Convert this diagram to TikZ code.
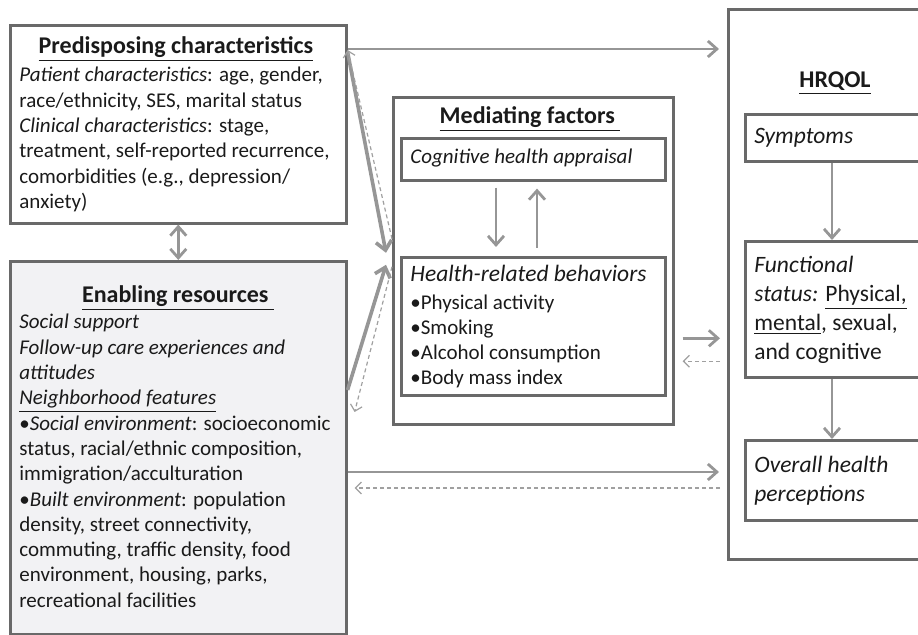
\documentclass[tikz,border=0pt]{standalone}
\usepackage{fontspec}
\setmainfont{Carlito}
\usetikzlibrary{arrows.meta}
\definecolor{linegray}{RGB}{105,105,105}
\definecolor{arrgray}{RGB}{150,150,150}
\definecolor{dashgray}{RGB}{160,160,160}
\definecolor{enabfill}{RGB}{242,242,244}
\definecolor{textgray}{RGB}{26,26,26}
\tikzset{
  box/.style={draw=linegray, line width=1.3pt, anchor=north west, inner sep=0pt},
  ttl/.style={anchor=base, inner sep=0pt, text=textgray,
              font=\fontsize{12}{14}\selectfont\bfseries},
  txt/.style={anchor=north west, inner sep=0pt, align=left, text=textgray,
              font=\fontsize{10.5}{12.65}\selectfont},
  bigtxt/.style={anchor=north west, inner sep=0pt, align=left, text=textgray,
              font=\fontsize{11.75}{14.4}\selectfont},
  arr/.style={->, >={Straight Barb[length=4.5pt,width=8pt]}, draw=arrgray, line width=1.4pt},
  thk/.style={arr, line width=1.8pt},
  dsh/.style={->, >={Straight Barb[length=3pt,width=6pt]}, draw=dashgray,
              line width=0.6pt, dash pattern=on 2pt off 1.5pt},
}
\begin{document}
\begin{tikzpicture}[x=0.5pt, y=-0.5pt]
\useasboundingbox (0,0) rectangle (918,635);
\clip (0,0) rectangle (918,635);

\node[box, minimum width=168pt, minimum height=99pt] (pred) at (9,24) {};
\node[box, fill=enabfill, minimum width=168pt, minimum height=186.5pt] (enab) at (9,260) {};
\node[box, minimum width=140pt, minimum height=163.5pt] (med) at (392,96) {};
\node[box, minimum width=132pt, minimum height=21pt] (cog) at (400,137) {};
\node[box, minimum width=132pt, minimum height=69pt] (beh) at (400,256) {};
\node[box, minimum width=125pt, minimum height=275pt] (hrq) at (727,8) {};
\node[box, minimum width=100pt, minimum height=23.5pt] (sym) at (744,113) {};
\node[box, minimum width=100pt, minimum height=68pt] (fun) at (744,240) {};
\node[box, minimum width=100pt, minimum height=40pt] (ovr) at (744,439) {};

\node[ttl] (predttl) at (176,54) {\underline{Predisposing characteristics}};
\node[ttl] (enabttl) at (178,303) {\underline{Enabling resources\ }};
\node[ttl] (medttl) at (530,124) {\underline{Mediating factors\ }};
\node[ttl] (hrqttl) at (835,88) {\underline{HRQOL}};

\node[txt] (predtxt) at (19,67) {\textit{Patient characteristics}: age, gender,\\
  race/ethnicity, SES, marital status\\
  \textit{Clinical characteristics}: stage,\\
  treatment, self-reported recurrence,\\
  comorbidities (e.g., depression/\\
  anxiety)};
\node[txt] (enabtxt) at (19,314) {\textit{Social support}\\
  \textit{Follow-up care experiences and}\\
  \textit{attitudes}\\
  \textit{\underline{Neighborhood features}}\\
  •\textit{Social environment}: socioeconomic\\
  status, racial/ethnic composition,\\
  immigration/acculturation\\
  •\textit{Built environment}: population\\
  density, street connectivity,\\
  commuting, traffic density, food\\
  environment, housing, parks,\\
  recreational facilities};
\node[txt, anchor=base west] (cogtxt) at (410,164) {\textit{Cognitive health appraisal}};
\node[txt] (behtxt) at (410,265) {{\fontsize{11.75}{14.4}\selectfont\textit{Health-related behaviors}}\\[1pt]
  •Physical activity\\
  •Smoking\\
  •Alcohol consumption\\
  •Body mass index};
\node[bigtxt, anchor=base west] (symtxt) at (754,144) {\textit{Symptoms}};
\node[bigtxt] (funtxt) at (754,256) {\textit{Functional}\\
  \textit{status:} \underline{Physical,}\\
  \underline{mental}, sexual,\\
  and cognitive};
\node[bigtxt] (ovrtxt) at (754,456) {\textit{Overall health}\\
  \textit{perceptions}};

\coordinate (t1) at ([yshift=-12.5pt]pred.north east);
\coordinate (m1) at ([yshift=-38.75pt]med.east);
\coordinate (m2) at ([yshift=-50.25pt]med.east);
\coordinate (e1) at ([yshift=-106pt]enab.north east);
\coordinate (e2) at ([yshift=-114pt]enab.north east);

\draw[arr, <->] (pred.south) -- (enab.north);
\draw[arr, shorten >=4pt] (t1) -- (t1 -| hrq.west);
\draw[thk] ([yshift=-14pt]pred.north east) -- ([yshift=4pt,xshift=-3pt]med.west);
\draw[thk] ([yshift=-65pt]enab.north east) -- ([yshift=-2pt,xshift=-3pt]med.west);
\draw[dsh] ([yshift=11pt]med.west) -- ([yshift=-13pt]pred.north east);
\draw[dsh] ([yshift=-3pt]med.west) -- ([xshift=3.5pt,yshift=-76pt]enab.north east);
\draw[arr, shorten <=3pt, shorten >=4.5pt] ([xshift=48pt]cog.south west) -- ([xshift=48pt]beh.north west);
\draw[arr, shorten <=4pt, shorten >=3.5pt] ([xshift=68.5pt]beh.north west) -- ([xshift=68.5pt]cog.south west);
\draw[arr, shorten <=4pt, shorten >=3.5pt] (m1) -- (m1 -| hrq.west);
\draw[dsh, shorten <=3.5pt, shorten >=4pt] (m2 -| hrq.west) -- (m2);
\draw[arr, shorten >=4pt] (e1) -- (e1 -| hrq.west);
\draw[dsh, shorten <=3.5pt, shorten >=3.5pt] (e2 -| hrq.west) -- (e2);
\draw[arr] ([xshift=44pt]sym.south west) -- ([xshift=44pt]fun.north west);
\draw[arr] ([xshift=44pt]fun.south west) -- ([xshift=44pt]ovr.north west);
\end{tikzpicture}
\end{document}
